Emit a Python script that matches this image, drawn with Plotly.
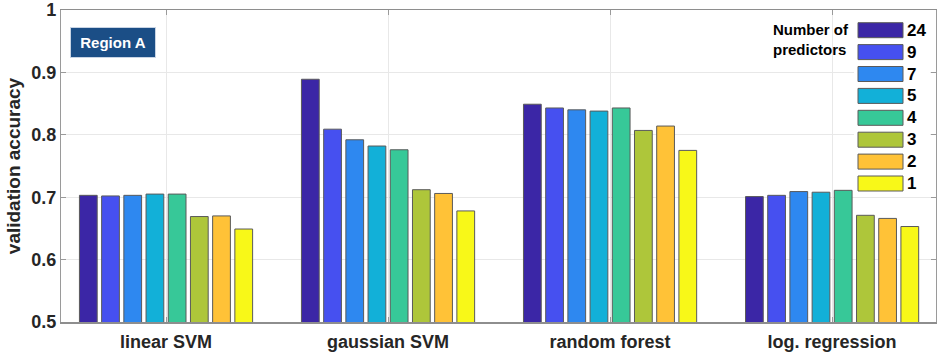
import plotly.graph_objects as go

categories = ["linear SVM", "gaussian SVM", "random forest", "log. regression"]
series_names = ["24", "9", "7", "5", "4", "3", "2", "1"]
series_colors = ["#3B26A6", "#4650F0", "#2E88F0", "#12B0D8", "#37C898", "#AEC63A", "#FFC237", "#F8F818"]
acc_24 = [0.703, 0.889, 0.849, 0.701]
acc_9 = [0.702, 0.809, 0.843, 0.703]
acc_7 = [0.703, 0.792, 0.840, 0.709]
acc_5 = [0.705, 0.782, 0.838, 0.708]
acc_4 = [0.705, 0.776, 0.843, 0.711]
acc_3 = [0.669, 0.712, 0.807, 0.671]
acc_2 = [0.670, 0.706, 0.814, 0.666]
acc_1 = [0.649, 0.678, 0.775, 0.653]
series_values = [acc_24, acc_9, acc_7, acc_5, acc_4, acc_3, acc_2, acc_1]
y_ticks = [0.5, 0.6, 0.7, 0.8, 0.9, 1.0]
y_tick_labels = ["0.5", "0.6", "0.7", "0.8", "0.9", "1"]

W, H = 943, 356
L, R, T, B = 61, 7, 10, 34
FONT = "Liberation Sans, Arial, sans-serif"

def px_x(px):
    return (px - L) / (W - L - R)

def px_y(py):
    return (H - B - py) / (H - B - T)

fig = go.Figure()
for name, col, vals in zip(series_names, series_colors, series_values):
    fig.add_trace(go.Bar(
        x=categories, y=vals, name=name,
        marker=dict(color=col, line=dict(color="#5a5a5a", width=1)),
        showlegend=False, hoverinfo="skip",
    ))

# custom legend (swatches + labels) built from series lists
shapes = []
annotations = []
shapes.append(dict(type="rect", xref="paper", yref="paper",
                   x0=px_x(854), x1=px_x(930), y0=px_y(196), y1=px_y(19),
                   fillcolor="white", line=dict(width=0), layer="above"))
for i, (name, col) in enumerate(zip(series_names, series_colors)):
    top = 22.7 + i * 21.9
    shapes.append(dict(type="rect", xref="paper", yref="paper",
                       x0=px_x(858), x1=px_x(903), y0=px_y(top + 15), y1=px_y(top),
                       fillcolor=col, line=dict(color="#5a5a5a", width=1), layer="above"))
    annotations.append(dict(xref="paper", yref="paper", x=px_x(905), y=px_y(top + 7.5),
                            text=f"<b>{name}</b>", showarrow=False, xanchor="left", yanchor="middle",
                            font=dict(family=FONT, size=17, color="black")))
annotations.append(dict(xref="paper", yref="paper", x=px_x(771), y=px_y(39),
                        text="<b>Number of<br>predictors</b>", showarrow=False, xanchor="left",
                        yanchor="middle", align="left",
                        font=dict(family=FONT, size=15, color="black")))
# Region A label
annotations.append(dict(xref="paper", yref="paper", x=px_x(113), y=px_y(42.5),
                        text="<b>Region A</b>", showarrow=False, xanchor="center", yanchor="middle",
                        font=dict(family=FONT, size=15, color="white"),
                        bgcolor="#1B4E86", bordercolor="#c8d4e4", borderwidth=1,
                        width=82, height=27))

fig.update_layout(
    width=W, height=H,
    margin=dict(l=L, r=R, t=T, b=B, autoexpand=False),
    barmode="group", bargap=0.2, bargroupgap=0.2,
    plot_bgcolor="white", paper_bgcolor="white",
    shapes=shapes, annotations=annotations,
    font=dict(family=FONT, color="#262626"),
    hovermode=False,
)
fig.update_xaxes(
    range=[-0.473, 3.468], showgrid=True, gridcolor="#e8e8e8", gridwidth=1,
    showline=True, linecolor="#8e8e8e", linewidth=1.5, mirror="ticks",
    ticks="inside", ticklen=5, tickcolor="#9a9a9a", automargin=False,
    tickfont=dict(family=FONT, size=18, color="#262626"), ticklabelstandoff=3,
    tickprefix="<b>", ticksuffix="</b>", fixedrange=True,
)
fig.update_yaxes(
    range=[0.5, 1.0], tickvals=y_ticks, ticktext=[f"<b>{t}</b>" for t in y_tick_labels],
    showgrid=True, gridcolor="#e8e8e8", gridwidth=1, zeroline=False, automargin=False,
    showline=True, linecolor="#9a9a9a", linewidth=1.2, mirror="ticks",
    ticks="inside", ticklen=5, tickcolor="#9a9a9a", fixedrange=True,
    tickfont=dict(family=FONT, size=18, color="#262626"),
    title=dict(text="<b>validation accuracy</b>", font=dict(family=FONT, size=19, color="#262626"), standoff=5),
)
fig.write_html("out.html", config={"displayModeBar": False, "staticPlot": True},
               post_script="document.body.style.margin='0';document.body.style.overflow='hidden';")
